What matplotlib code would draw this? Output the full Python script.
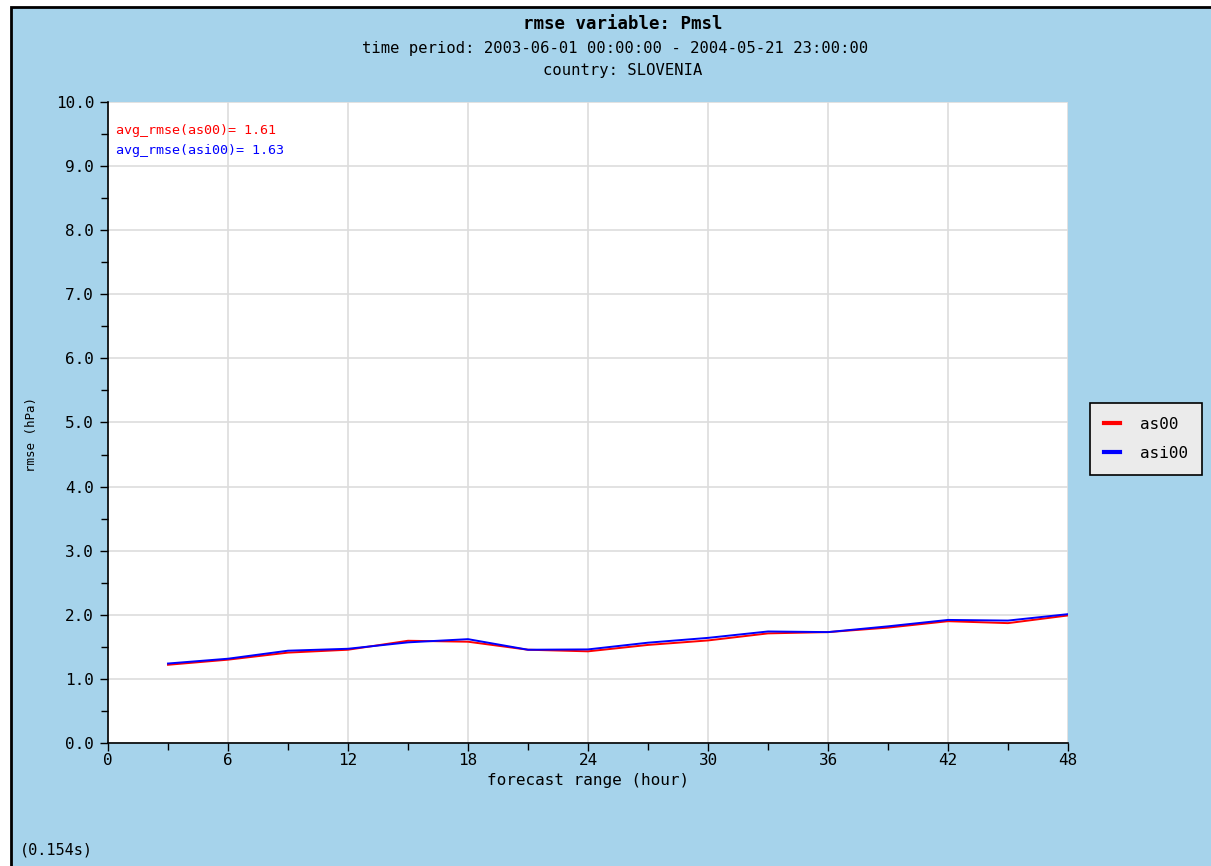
import matplotlib
matplotlib.use("Agg")
import matplotlib.pyplot as plt
from matplotlib.patches import Rectangle
from matplotlib.lines import Line2D
from matplotlib.ticker import MultipleLocator, FormatStrFormatter

# ---- data ----
hours = [3, 6, 9, 12, 15, 18, 21, 24, 27, 30, 33, 36, 39, 42, 45, 48]
as00 = [1.22, 1.30, 1.41, 1.455, 1.595, 1.58, 1.455, 1.43, 1.53, 1.60, 1.71, 1.73, 1.80, 1.90, 1.87, 1.99]
asi00 = [1.24, 1.315, 1.44, 1.47, 1.57, 1.62, 1.455, 1.46, 1.565, 1.64, 1.74, 1.73, 1.82, 1.92, 1.91, 2.01]
series_names = ["as00", "asi00"]
series_colors = ["#ff0000", "#0000ff"]
avg_labels = ["avg_rmse(as00)= 1.61", "avg_rmse(asi00)= 1.63"]
title = "rmse variable: Pmsl"
subtitle1 = "time period: 2003-06-01 00:00:00 - 2004-05-21 23:00:00"
subtitle2 = "country: SLOVENIA"
xlabel = "forecast range (hour)"
ylabel = "rmse (hPa)"
footer = "(0.154s)"

W, H = 1211, 866
BG = "#a6d3eb"
MONO = "DejaVu Sans Mono"

fig = plt.figure(figsize=(W / 100, H / 100), dpi=100, facecolor="white")

# outer panel with black border on top/left
fig.patches.append(Rectangle((11 / W, -0.05), 1.2, (H - 7) / H + 0.05,
                             transform=fig.transFigure, facecolor=BG,
                             edgecolor="black", linewidth=2, zorder=-10))

def fx(px):
    return px / W

def fy(py):
    return 1 - py / H

ax = fig.add_axes([fx(108), fy(743), (1068 - 108) / W, (743 - 102) / H])
ax.set_zorder(2)
ax.set_facecolor("white")

ax.plot(hours, as00, color=series_colors[0], lw=1.4, zorder=3)
ax.plot(hours, asi00, color=series_colors[1], lw=1.4, zorder=4)

ax.set_xlim(0, 48)
ax.set_ylim(0, 10)
ax.xaxis.set_major_locator(MultipleLocator(6))
ax.xaxis.set_minor_locator(MultipleLocator(3))
ax.yaxis.set_major_locator(MultipleLocator(1))
ax.yaxis.set_minor_locator(MultipleLocator(0.5))
ax.yaxis.set_major_formatter(FormatStrFormatter("%.1f"))
ax.grid(True, which="major", color="#dddddd", lw=1.2, zorder=1)
ax.set_axisbelow(True)
for s in ["top", "right"]:
    ax.spines[s].set_visible(False)
for s in ["left", "bottom"]:
    ax.spines[s].set_color("black")
    ax.spines[s].set_linewidth(1.2)
ax.tick_params(which="both", direction="out", color="black", width=1.0)
ax.tick_params(which="major", length=6, labelsize=11.5)
ax.tick_params(axis="y", which="major", pad=4)
ax.tick_params(axis="x", which="major", pad=1)
ax.tick_params(which="minor", length=5)
for lab in ax.get_xticklabels() + ax.get_yticklabels():
    lab.set_fontfamily(MONO)

ax.set_xlabel(xlabel, fontfamily=MONO, fontsize=11.5, labelpad=4)
fig.text(fx(32), fy(435), ylabel, rotation=90, ha="center", va="center",
         fontfamily=MONO, fontsize=9)

ax.text(8 / 960, 1 - 29 / 641, avg_labels[0], transform=ax.transAxes,
        color=series_colors[0], fontfamily=MONO, fontsize=9.6, va="center", ha="left")
ax.text(8 / 960, 1 - 49 / 641, avg_labels[1], transform=ax.transAxes,
        color=series_colors[1], fontfamily=MONO, fontsize=9.6, va="center", ha="left")

fig.text(fx(623), fy(24), title, ha="center", va="center", fontfamily=MONO,
         fontsize=12.5, fontweight="bold")
fig.text(fx(615), fy(48), subtitle1, ha="center", va="center", fontfamily=MONO, fontsize=11.2)
fig.text(fx(623), fy(70), subtitle2, ha="center", va="center", fontfamily=MONO, fontsize=11.2)
fig.text(fx(20), fy(850), footer, ha="left", va="center", fontfamily=MONO, fontsize=11)

handles = [Line2D([], [], color=c, lw=3) for c in series_colors]
leg = fig.legend(handles, series_names, loc="upper left",
                 bbox_to_anchor=(fx(1090), fy(403)), frameon=True, fancybox=False,
                 edgecolor="black", facecolor="#ebebeb", framealpha=1,
                 prop={"family": MONO, "size": 11.5}, handlelength=1.0,
                 handletextpad=1.3, borderpad=0.85, labelspacing=0.9,
                 borderaxespad=0)
leg.get_frame().set_linewidth(1.2)

fig.savefig("out.png", dpi=100, facecolor="white")
